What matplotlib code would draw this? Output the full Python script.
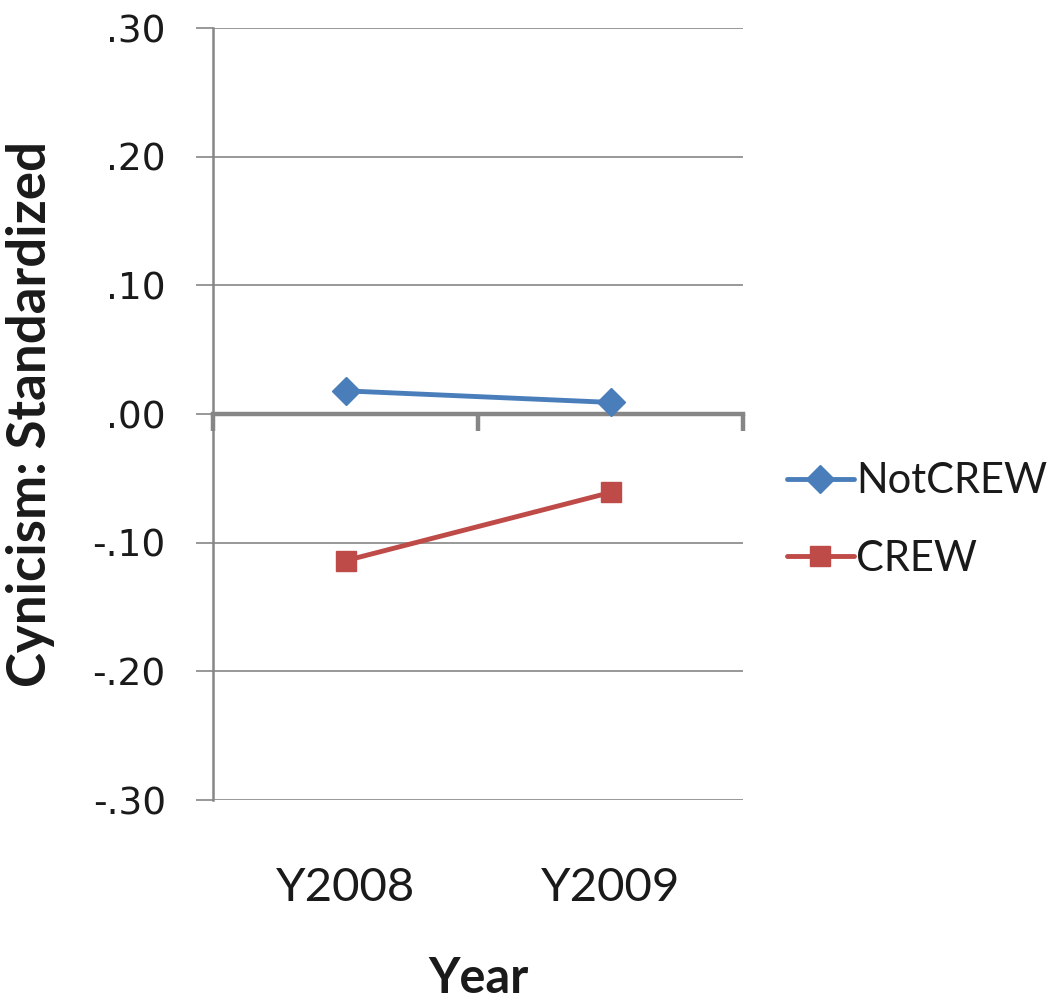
import matplotlib
matplotlib.use("Agg")
import matplotlib.pyplot as plt
from matplotlib.ticker import FuncFormatter

# Data
years = ["Y2008", "Y2009"]
not_crew = [0.018, 0.009]
crew = [-0.114, -0.061]
y_ticks = [-0.30, -0.20, -0.10, 0.00, 0.10, 0.20, 0.30]

BLUE = "#4A7EBB"
RED = "#BE4B48"
GRAY = "#868686"

fig = plt.figure(figsize=(10.57, 10.05), dpi=100)
ax = fig.add_axes([213 / 1057, 1 - 800 / 1005, 530 / 1057, 772 / 1005])

x = list(range(len(years)))
ax.plot(x, not_crew, color=BLUE, lw=3.5, marker="D", ms=14, mec=BLUE, mfc=BLUE,
        label="NotCREW", zorder=5, solid_capstyle="round")
ax.plot(x, crew, color=RED, lw=3.5, marker="s", ms=15, mec=RED, mfc=RED,
        label="CREW", zorder=5, solid_capstyle="round")

ax.set_xlim(-0.5, len(years) - 0.5)
ax.set_ylim(-0.30, 0.30)

# Y axis: gray line, outward ticks, values without leading zero
ax.set_yticks(y_ticks)


def fmt(v, _):
    s = f"{v:.2f}"
    return s.replace("0.", ".", 1)


ax.yaxis.set_major_formatter(FuncFormatter(fmt))
ax.yaxis.grid(True, color=GRAY, lw=1.2)
ax.set_axisbelow(True)
ax.tick_params(axis="y", length=12, width=1.2, color=GRAY, pad=22,
               labelsize=27, labelcolor="#1a1a1a")
for lab in ax.get_yticklabels():
    lab.set_fontfamily("DejaVu Sans")

ax.spines["left"].set_color(GRAY)
ax.spines["left"].set_linewidth(1.8)
ax.spines["top"].set_visible(False)
ax.spines["right"].set_visible(False)

# Category axis crossing at zero with boundary ticks
ax.spines["bottom"].set_position(("data", 0))
ax.spines["bottom"].set_color(GRAY)
ax.spines["bottom"].set_linewidth(3.2)
ax.set_xticks([i - 0.5 for i in range(len(years) + 1)])
ax.set_xticklabels([])
ax.tick_params(axis="x", length=12, width=3.2, color=GRAY, direction="out")

# Category labels placed below the plot area
sec = ax.secondary_xaxis("bottom")
sec.set_xticks(x)
sec.set_xticklabels(years, fontsize=34, fontfamily="Lato", color="#1a1a1a")
sec.tick_params(length=0, pad=48)
sec.spines["bottom"].set_visible(False)
sec.set_xlabel("Year", fontsize=35, fontweight="bold", fontfamily="Lato",
               labelpad=34, color="#1a1a1a")

ax.set_ylabel("Cynicism: Standardized", fontsize=38, fontweight="bold",
              fontfamily="Lato", color="#1a1a1a")
ax.yaxis.set_label_coords(-0.298, 0.5)

leg = fig.legend(loc="center left", bbox_to_anchor=(787 / 1057, 1 - 520 / 1005),
                 frameon=False, prop={"family": "Lato", "size": 30},
                 handlelength=1.6, handletextpad=0.06, labelspacing=0.95,
                 borderaxespad=0, borderpad=0)
for t in leg.get_texts():
    t.set_color("#1a1a1a")

fig.savefig("out.png", dpi=100)
